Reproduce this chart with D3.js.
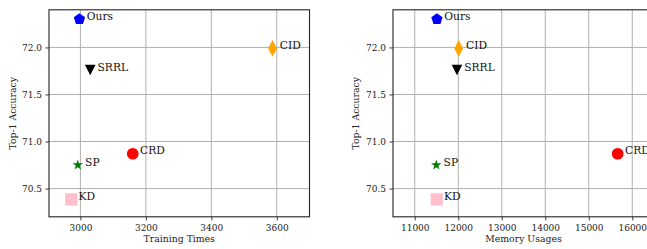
<!DOCTYPE html>
<html>
<head>
<meta charset="utf-8">
<script src="https://cdn.jsdelivr.net/npm/d3@7"></script>
<style>
  body { margin: 0; background: #fff; }
  svg { display: block; }
</style>
</head>
<body>
<div id="chart"></div>
<script>
const methods = ['Ours', 'CID', 'SRRL', 'CRD', 'SP', 'KD']
const trainingTimes = [2997, 3587, 3030, 3160, 2992, 2972]
const memoryUsages = [11510, 12010, 11970, 15665, 11495, 11505]
const accuracy = [72.30, 71.99, 71.76, 70.87, 70.75, 70.385]
const accuracyTicks = [70.5, 71.0, 71.5, 72.0]
const timeTicks = [3000, 3200, 3400, 3600]
const memoryTicks = [11000, 12000, 13000, 14000, 15000, 16000]

// custom symbol types, size = area-ish like d3's own
const pentagon = {
  draw(ctx, size) {
    const r = Math.sqrt(size / 2.378)
    for (let i = 0; i < 5; i++) {
      const a = -Math.PI / 2 + i * 2 * Math.PI / 5
      const x = r * Math.cos(a)
      const y = r * Math.sin(a)
      if (i === 0) ctx.moveTo(x, y)
      else ctx.lineTo(x, y)
    }
    ctx.closePath()
  }
}
const thinDiamond = {
  draw(ctx, size) {
    const h = Math.sqrt(size / 2 / 0.52)
    const w = h * 0.52
    ctx.moveTo(0, -h)
    ctx.lineTo(w, 0)
    ctx.lineTo(0, h)
    ctx.lineTo(-w, 0)
    ctx.closePath()
  }
}
const triangleDown = {
  draw(ctx, size) {
    const r = Math.sqrt(size / 2)
    ctx.moveTo(-r, -r)
    ctx.lineTo(r, -r)
    ctx.lineTo(0, r)
    ctx.closePath()
  }
}

const markers = {
  Ours: { type: pentagon, size: 84, color: '#0000ff' },
  CID: { type: thinDiamond, size: 75, color: '#ffa500' },
  SRRL: { type: triangleDown, size: 57, color: '#000000' },
  CRD: { type: d3.symbolCircle, size: 108, color: '#ff0000' },
  SP: { type: d3.symbolStar, size: 34, color: '#008000' },
  KD: { type: d3.symbolSquare, size: 150, color: '#ffc0cb' }
}

const W = 647
const H = 249
const font = 'DejaVu Serif, serif'

const svg = d3.select('#chart').append('svg')
  .attr('width', W)
  .attr('height', H)

const panel = (xValues, xDomain, xRange, xTicks, xLabel, yLabelX) => {
  const x = d3.scaleLinear().domain(xDomain).range(xRange)
  const y = d3.scaleLinear().domain([70.2, 72.4]).range([216.8, 9.8])
  const g = svg.append('g')

  // grid
  g.append('g')
    .selectAll('line')
    .data(xTicks)
    .join('line')
    .attr('x1', d => x(d)).attr('x2', d => x(d))
    .attr('y1', y.range()[0]).attr('y2', y.range()[1])
    .attr('stroke', '#b0b0b0').attr('stroke-width', 1)
  g.append('g')
    .selectAll('line')
    .data(accuracyTicks)
    .join('line')
    .attr('x1', xRange[0]).attr('x2', xRange[1])
    .attr('y1', d => y(d)).attr('y2', d => y(d))
    .attr('stroke', '#b0b0b0').attr('stroke-width', 1)

  // axes
  const xAxis = g.append('g')
    .attr('transform', `translate(0,${y.range()[0]})`)
    .call(d3.axisBottom(x).tickValues(xTicks).tickFormat(d3.format('d')).tickSize(3.5).tickPadding(4.5))
  const yAxis = g.append('g')
    .attr('transform', `translate(${xRange[0]},0)`)
    .call(d3.axisLeft(y).tickValues(accuracyTicks).tickFormat(d3.format('.1f')).tickSize(3.5).tickPadding(3.5))
  ;[xAxis, yAxis].forEach(a => {
    a.select('.domain').remove()
    a.selectAll('.tick line').attr('stroke', '#222').attr('stroke-width', 0.9)
    a.selectAll('.tick text')
      .attr('font-family', font)
      .attr('font-size', 9)
      .attr('fill', '#222')
  })

  // frame
  g.append('rect')
    .attr('x', xRange[0]).attr('y', y.range()[1])
    .attr('width', xRange[1] - xRange[0])
    .attr('height', y.range()[0] - y.range()[1])
    .attr('fill', 'none')
    .attr('stroke', '#222')
    .attr('stroke-width', 1.1)

  // axis labels
  g.append('text')
    .attr('x', (xRange[0] + xRange[1]) / 2)
    .attr('y', 242)
    .attr('text-anchor', 'middle')
    .attr('font-family', font)
    .attr('font-size', 9.3)
    .attr('fill', '#222')
    .text(xLabel)
  g.append('text')
    .attr('transform', `translate(${yLabelX},${(y.range()[0] + y.range()[1]) / 2}) rotate(-90)`)
    .attr('text-anchor', 'middle')
    .attr('font-family', font)
    .attr('font-size', 9.3)
    .attr('fill', '#222')
    .text('Top-1 Accuracy')

  // points
  const pts = g.append('g')
    .selectAll('g')
    .data(methods.map((m, i) => ({ m, xv: xValues[i], acc: accuracy[i] })))
    .join('g')
    .attr('transform', d => `translate(${x(d.xv)},${y(d.acc)})`)

  pts.append('path')
    .attr('d', d => d3.symbol().type(markers[d.m].type).size(markers[d.m].size)())
    .attr('fill', d => markers[d.m].color)

  pts.append('text')
    .attr('x', 7.3)
    .attr('y', 0.5)
    .attr('font-family', font)
    .attr('font-size', 10.7)
    .attr('fill', '#111')
    .text(d => d.m)
}

panel(trainingTimes, [2904, 3700], [49, 309.5], timeTicks, 'Training Times', 15.5)
panel(memoryUsages, [10500, 16500], [393, 654], memoryTicks, 'Memory Usages', 358.7)
</script>
</body>
</html>
